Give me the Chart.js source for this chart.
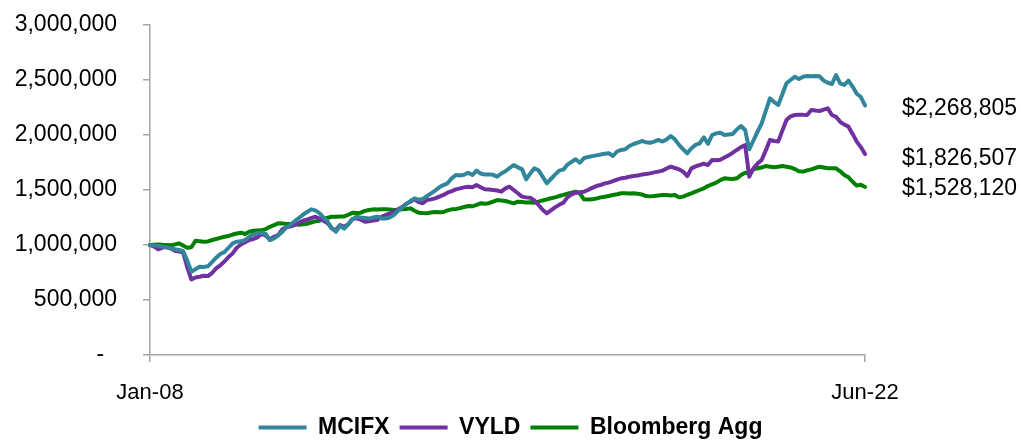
<!DOCTYPE html>
<html lang="en">
<head>
<meta charset="UTF-8">
<title>Growth of $1,000,000</title>
<script src="https://cdn.jsdelivr.net/npm/chart.js@4"></script>
<style>
    html, body { margin: 0; padding: 0; background: #fff; overflow: hidden; }
    #wrap { width: 1021px; height: 449px; position: relative; }
</style>
</head>
<body>
<div id="wrap"><canvas id="chart"></canvas></div>
<script>
// monthly values in $ thousands, Jan-08 .. Jun-22 (one row per 12 months)
const mcifx = [
    1000, 995, 992, 985, 978, 970, 962, 955, 945, 860, 757, 780,
    803, 800, 806, 845, 885, 918, 935, 975, 1015, 1030, 1034, 1045,
    1075, 1095, 1108, 1112, 1100, 1045, 1060, 1085, 1120, 1160, 1185, 1215,
    1245, 1275, 1300, 1324, 1315, 1290, 1250, 1212, 1150, 1121, 1175, 1148,
    1190, 1235, 1257, 1250, 1245, 1240, 1250, 1257, 1242, 1240, 1250, 1273,
    1310, 1340, 1370, 1400, 1424, 1412, 1418, 1445, 1470, 1495, 1524, 1545,
    1561, 1606, 1636, 1632, 1638, 1657, 1636, 1676, 1650, 1640, 1642, 1638,
    1621, 1650, 1670, 1700, 1727, 1706, 1690, 1597, 1650, 1697, 1680, 1621,
    1561, 1600, 1640, 1676, 1685, 1730, 1755, 1779, 1748, 1790, 1800, 1808,
    1815, 1822, 1830, 1835, 1809, 1850, 1864, 1870, 1900, 1918, 1930, 1945,
    1935, 1930, 1940, 1955, 1940, 1960, 1991, 1960, 1910, 1870, 1833, 1880,
    1910, 1924, 1979, 1920, 2000, 2015, 2021, 2000, 2005, 2010, 2050, 2082,
    2045, 1870, 1950, 2030, 2106, 2220, 2333, 2300, 2273, 2370, 2470, 2500,
    2530, 2509, 2530, 2536, 2535, 2536, 2534, 2495, 2475, 2464, 2545, 2470,
    2455, 2494, 2440, 2375, 2345, 2268.805
];

const vyld = [
    1000, 985, 961, 975, 985, 970, 948, 940, 935, 800, 688, 705,
    712, 720, 718, 745, 788, 815, 850, 890, 924, 975, 1005, 1025,
    1045, 1055, 1070, 1100, 1085, 1052, 1075, 1090, 1142, 1160, 1170, 1182,
    1200, 1220, 1230, 1245, 1257, 1240, 1221, 1197, 1150, 1136, 1182, 1166,
    1190, 1236, 1242, 1230, 1212, 1215, 1222, 1227, 1257, 1273, 1285, 1303,
    1325, 1345, 1375, 1394, 1415, 1390, 1379, 1409, 1415, 1424, 1440, 1455,
    1476, 1490, 1506, 1515, 1524, 1530, 1525, 1545, 1525, 1506, 1505, 1500,
    1495, 1485, 1515, 1530, 1500, 1470, 1440, 1433, 1430, 1405, 1364, 1320,
    1288, 1315, 1342, 1365, 1385, 1433, 1460, 1476, 1480, 1485, 1500, 1520,
    1536, 1545, 1560, 1567, 1580, 1595, 1606, 1612, 1620, 1627, 1632, 1640,
    1645, 1651, 1660, 1667, 1676, 1695, 1712, 1700, 1688, 1667, 1627, 1697,
    1715, 1727, 1740, 1727, 1773, 1770, 1775, 1795, 1815, 1839, 1865, 1890,
    1909, 1621, 1697, 1740, 1773, 1860, 1955, 1945, 1940, 2040, 2136, 2170,
    2182, 2185, 2183, 2182, 2227, 2222, 2218, 2230, 2242, 2182, 2165, 2120,
    2095, 2076, 2010, 1940, 1890, 1826.507
];

const bbgAgg = [
    1000, 1003, 1005, 1002, 1000, 998, 1005, 1015, 995, 975, 980, 1039,
    1035, 1030, 1032, 1045, 1055, 1065, 1075, 1082, 1095, 1105, 1112, 1100,
    1120, 1130, 1132, 1133, 1145, 1165, 1180, 1197, 1195, 1192, 1190, 1188,
    1185, 1188, 1192, 1205, 1215, 1221, 1235, 1248, 1257, 1256, 1258, 1260,
    1275, 1294, 1290, 1294, 1310, 1318, 1324, 1322, 1325, 1324, 1322, 1318,
    1320, 1325, 1328, 1333, 1312, 1294, 1290, 1288, 1295, 1300, 1298, 1300,
    1315, 1324, 1328, 1335, 1345, 1355, 1352, 1365, 1379, 1376, 1380, 1395,
    1409, 1405, 1400, 1390, 1379, 1394, 1390, 1386, 1388, 1385, 1394, 1405,
    1415, 1425, 1433, 1445, 1455, 1466, 1476, 1485, 1470, 1415, 1413, 1415,
    1422, 1433, 1438, 1445, 1455, 1462, 1470, 1470, 1468, 1470, 1465, 1460,
    1445, 1442, 1445, 1450, 1455, 1455, 1450, 1455, 1433, 1440, 1455, 1470,
    1485, 1500, 1515, 1536, 1552, 1567, 1590, 1606, 1603, 1600, 1606, 1636,
    1657, 1650, 1688, 1698, 1705, 1718, 1712, 1706, 1712, 1718, 1712, 1705,
    1690, 1670, 1667, 1678, 1688, 1700, 1712, 1705, 1697, 1698, 1697, 1670,
    1636, 1615, 1575, 1540, 1548, 1528.12
];

const seriesNames = ['MCIFX', 'VYLD', 'Bloomberg Agg'];
const seriesColors = ['#31869b', '#7030a0', '#008000'];
const labelNudge = [3, 5, 2];   // px shift of the end-value labels
const monthNames = ['Jan', 'Feb', 'Mar', 'Apr', 'May', 'Jun', 'Jul', 'Aug', 'Sep', 'Oct', 'Nov', 'Dec'];

// category labels Jan-08 .. Jun-22
const months = [];
for (let y = 2008; y <= 2022; y++) {
    for (let m = 0; m < 12; m++) {
        if (y === 2022 && m > 5) break;
        months.push(monthNames[m] + '-' + String(y).slice(2));
    }
}

const FONT = "'Liberation Sans', Arial, sans-serif";
Chart.defaults.font.family = FONT;
Chart.defaults.color = '#000';

// "$2,268,805" style labels at the right end of each line
const endLabels = {
    id: 'endLabels',
    afterDatasetsDraw(chart) {
        const { ctx, chartArea, scales } = chart;
        ctx.save();
        ctx.font = '23px ' + FONT;
        ctx.fillStyle = '#000';
        ctx.textAlign = 'left';
        ctx.textBaseline = 'middle';
        chart.data.datasets.forEach((ds, i) => {
            const last = ds.data[ds.data.length - 1];
            const y = scales.y.getPixelForValue(last) + labelNudge[i];
            ctx.fillText('$' + Math.round(last).toLocaleString('en-US'), chartArea.right + 37, y);
        });
        ctx.restore();
    }
};

const axisGray = '#a6a6a6';

new Chart(document.getElementById('chart'), {
    type: 'line',
    data: {
        labels: months,
        datasets: [mcifx, vyld, bbgAgg].map((arr, i) => ({
            label: seriesNames[i],
            data: arr.map(v => v * 1000),
            borderColor: seriesColors[i],
            backgroundColor: seriesColors[i],
            borderWidth: 4,
            pointRadius: 0,
            tension: 0,
            borderJoinStyle: 'round',
            borderCapStyle: 'round',
            fill: false
        }))
    },
    options: {
        responsive: true,
        maintainAspectRatio: false,
        animation: false,
        layout: { padding: { top: 25, left: 0, right: 0, bottom: 0 } },
        plugins: {
            tooltip: { enabled: false },
            legend: {
                position: 'bottom',
                labels: {
                    usePointStyle: true,
                    pointStyle: 'line',
                    pointStyleWidth: 48,
                    padding: 10,
                    color: '#000',
                    font: { size: 23, weight: 'bold' }
                }
            }
        },
        scales: {
            x: {
                type: 'category',
                offset: false,
                afterBuildTicks: axis => {
                    axis.ticks = axis.ticks.filter((t, i, a) => i === 0 || i === a.length - 1);
                },
                afterFit: s => { s.height = 51; },
                ticks: { autoSkip: false, maxRotation: 0, padding: 18, font: { size: 22 }, color: '#000' },
                grid: { drawOnChartArea: false, drawTicks: true, tickLength: 7, color: axisGray, lineWidth: 1.5 },
                border: { display: true, color: axisGray, width: 1.5 }
            },
            y: {
                position: 'left',
                min: 0,
                max: 3000000,
                afterFit: s => {
                    s.width = 150;
                    // the tick padding would otherwise push the plot top down
                    s.paddingTop = 0;
                    s.paddingBottom = 0;
                },
                ticks: {
                    stepSize: 500000,
                    padding: 26,
                    font: { size: 23 },
                    color: '#000',
                    callback: v => v === 0 ? '-\u2007' : v.toLocaleString('en-US')
                },
                grid: { drawOnChartArea: false, drawTicks: true, tickLength: 7, color: axisGray, lineWidth: 1.5 },
                border: { display: true, color: axisGray, width: 1.5 }
            },
            // empty right-hand axis that only reserves room for the end labels
            yRight: {
                position: 'right',
                display: true,
                afterFit: s => { s.width = 156; },
                ticks: { display: false },
                grid: { display: false },
                border: { display: false }
            }
        }
    },
    plugins: [endLabels]
});
</script>
</body>
</html>
